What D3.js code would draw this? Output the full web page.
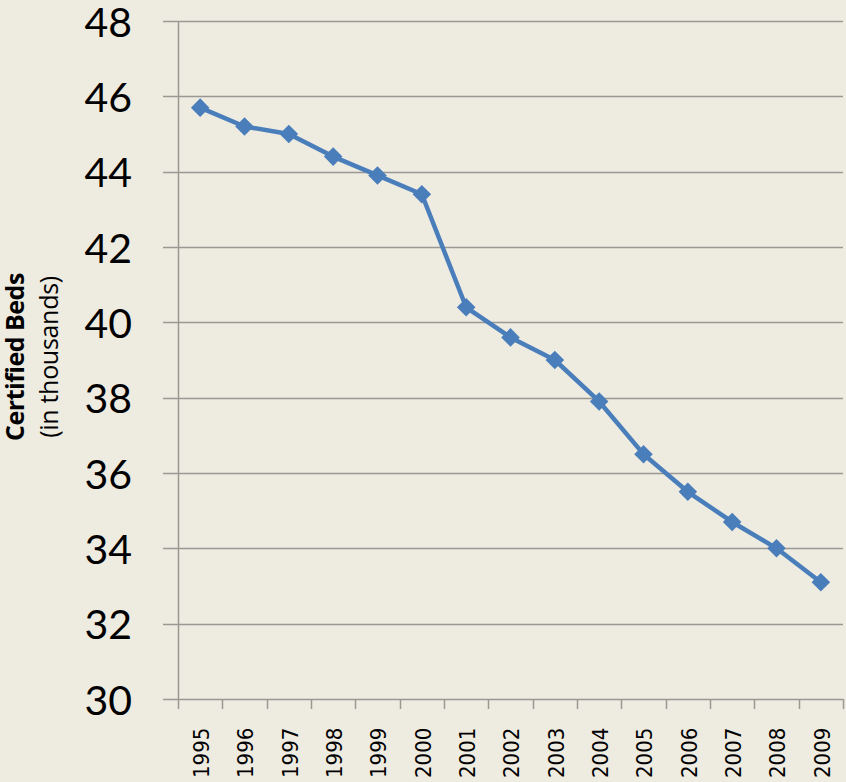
<!DOCTYPE html>
<html>
<head>
<meta charset="utf-8">
<script src="https://cdn.jsdelivr.net/npm/d3@7"></script>
<style>
  html, body { margin: 0; padding: 0; background: #eeebe1; }
  svg { display: block; }
</style>
</head>
<body>
<svg id="chart"></svg>
<script>
const years = ["1995", "1996", "1997", "1998", "1999", "2000", "2001", "2002",
               "2003", "2004", "2005", "2006", "2007", "2008", "2009"];
const beds = [45.7, 45.2, 45.0, 44.4, 43.9, 43.4, 40.4, 39.6,
              39.0, 37.9, 36.5, 35.5, 34.7, 34.0, 33.1];
const yTicks = [30, 32, 34, 36, 38, 40, 42, 44, 46, 48];

const width = 846;
const height = 782;
const margin = {top: 21, right: 3, bottom: 83, left: 178};

const svg = d3.select("#chart")
    .attr("width", width)
    .attr("height", height);

svg.append("rect")
    .attr("width", width)
    .attr("height", height)
    .attr("fill", "#eeebe1");

const x = d3.scaleBand()
    .domain(years)
    .range([margin.left, width - margin.right]);

const y = d3.scaleLinear()
    .domain([30, 48])
    .range([height - margin.bottom, margin.top]);

// gridlines + y ticks
svg.append("g")
    .attr("stroke", "#9a9893")
    .attr("stroke-width", 1.5)
  .selectAll("line")
  .data(yTicks)
  .join("line")
    .attr("x1", margin.left - 15)
    .attr("x2", width - margin.right)
    .attr("y1", d => Math.round(y(d)) + 0.5)
    .attr("y2", d => Math.round(y(d)) + 0.5);

svg.append("g")
    .attr("font-family", "Lato, 'Open Sans', sans-serif")
    .attr("font-size", 41)
    .attr("fill", "#000")
    .attr("text-anchor", "end")
  .selectAll("text")
  .data(yTicks)
  .join("text")
    .attr("x", margin.left - 46)
    .attr("y", d => y(d) + 1)
    .attr("dy", "0.36em")
    .text(d => d);

// y axis line
svg.append("line")
    .attr("x1", margin.left + 0.5)
    .attr("x2", margin.left + 0.5)
    .attr("y1", margin.top)
    .attr("y2", y(30))
    .attr("stroke", "#9a9893")
    .attr("stroke-width", 1.5);

// x axis ticks between categories
const xBounds = years.map(d => x(d)).concat([x(years[years.length - 1]) + x.bandwidth()]);
svg.append("g")
    .attr("stroke", "#9a9893")
    .attr("stroke-width", 1.5)
  .selectAll("line")
  .data(xBounds)
  .join("line")
    .attr("x1", d => Math.round(d) + 0.5)
    .attr("x2", d => Math.round(d) + 0.5)
    .attr("y1", y(30))
    .attr("y2", y(30) + 10);

svg.append("g")
    .attr("font-family", "'DejaVu Sans Condensed', 'DejaVu Sans', sans-serif")
    .attr("font-size", 22)
    .attr("fill", "#000")
    .attr("text-anchor", "start")
  .selectAll("text")
  .data(years)
  .join("text")
    .attr("transform", d => `translate(${x(d) + x.bandwidth() / 2 + 1},${height - 4}) rotate(-90)`)
    .attr("dy", "0.36em")
    .text(d => d);

// y title
const title = svg.append("g")
    .attr("transform", `translate(3,${(margin.top + y(30)) / 2 - 3}) rotate(-90)`)
    .attr("font-family", "'Open Sans', sans-serif")
    .attr("font-size", 25)
    .attr("text-anchor", "middle")
    .attr("fill", "#000");
title.append("text")
    .attr("x", 0)
    .attr("y", 21)
    .attr("font-weight", "bold")
    .attr("letter-spacing", -0.5)
    .text("Certified Beds");
title.append("text")
    .attr("x", 0)
    .attr("y", 55)
    .attr("letter-spacing", -0.3)
    .text("(in thousands)");

// series line
const line = d3.line()
    .x((d, i) => x(years[i]) + x.bandwidth() / 2)
    .y(d => y(d));

svg.append("path")
    .datum(beds)
    .attr("fill", "none")
    .attr("stroke", "#4a7ebb")
    .attr("stroke-width", 4.5)
    .attr("stroke-linejoin", "round")
    .attr("d", line);

svg.append("g")
    .attr("fill", "#4a7ebb")
  .selectAll("path")
  .data(beds)
  .join("path")
    .attr("transform", (d, i) => `translate(${x(years[i]) + x.bandwidth() / 2},${y(d)})`)
    .attr("d", d3.symbol(d3.symbolDiamond2, 220));
</script>
</body>
</html>
